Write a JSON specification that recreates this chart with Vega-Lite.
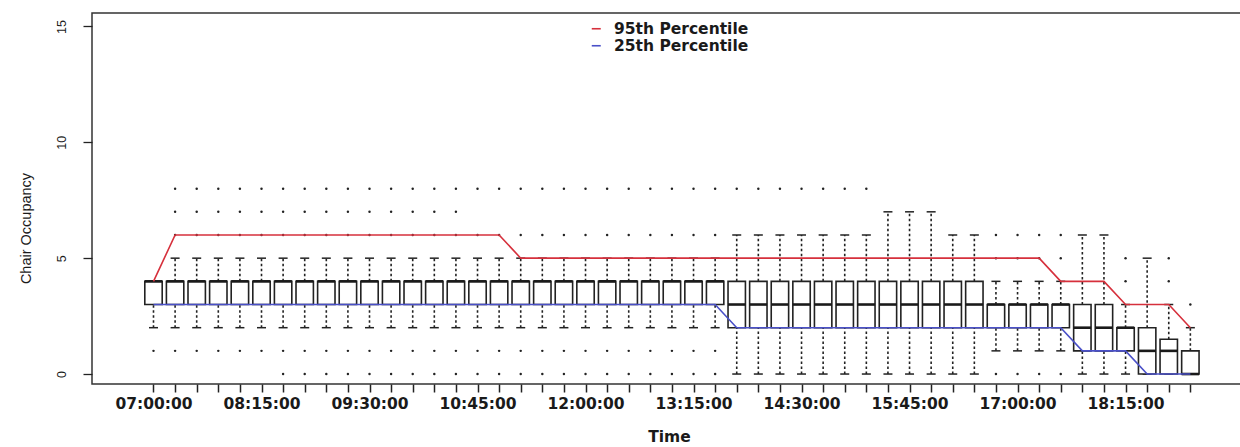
{
  "$schema": "https://vega.github.io/schema/vega-lite/v6.json",
  "autosize": {"type": "none"},
  "padding": {"left": 92, "top": 13, "right": 0, "bottom": 63},
  "width": 1148,
  "height": 371,
  "background": "white",
  "config": {
    "view": {"stroke": "#333", "strokeWidth": 1.5, "strokeDash": [1148, 371, 1519, 0.01]},
    "font": "Liberation Sans"
  },
  "data": {
    "format": {"parse": {"time": "date:'%H:%M:%S'"}},
    "values": [
      {"time": "07:00:00", "lo": 2, "q1": 3, "med": 4, "q3": 4, "hi": 4, "p95": 4, "p25": 3},
      {"time": "07:15:00", "lo": 2, "q1": 3, "med": 4, "q3": 4, "hi": 5, "p95": 6, "p25": 3},
      {"time": "07:30:00", "lo": 2, "q1": 3, "med": 4, "q3": 4, "hi": 5, "p95": 6, "p25": 3},
      {"time": "07:45:00", "lo": 2, "q1": 3, "med": 4, "q3": 4, "hi": 5, "p95": 6, "p25": 3},
      {"time": "08:00:00", "lo": 2, "q1": 3, "med": 4, "q3": 4, "hi": 5, "p95": 6, "p25": 3},
      {"time": "08:15:00", "lo": 2, "q1": 3, "med": 4, "q3": 4, "hi": 5, "p95": 6, "p25": 3},
      {"time": "08:30:00", "lo": 2, "q1": 3, "med": 4, "q3": 4, "hi": 5, "p95": 6, "p25": 3},
      {"time": "08:45:00", "lo": 2, "q1": 3, "med": 4, "q3": 4, "hi": 5, "p95": 6, "p25": 3},
      {"time": "09:00:00", "lo": 2, "q1": 3, "med": 4, "q3": 4, "hi": 5, "p95": 6, "p25": 3},
      {"time": "09:15:00", "lo": 2, "q1": 3, "med": 4, "q3": 4, "hi": 5, "p95": 6, "p25": 3},
      {"time": "09:30:00", "lo": 2, "q1": 3, "med": 4, "q3": 4, "hi": 5, "p95": 6, "p25": 3},
      {"time": "09:45:00", "lo": 2, "q1": 3, "med": 4, "q3": 4, "hi": 5, "p95": 6, "p25": 3},
      {"time": "10:00:00", "lo": 2, "q1": 3, "med": 4, "q3": 4, "hi": 5, "p95": 6, "p25": 3},
      {"time": "10:15:00", "lo": 2, "q1": 3, "med": 4, "q3": 4, "hi": 5, "p95": 6, "p25": 3},
      {"time": "10:30:00", "lo": 2, "q1": 3, "med": 4, "q3": 4, "hi": 5, "p95": 6, "p25": 3},
      {"time": "10:45:00", "lo": 2, "q1": 3, "med": 4, "q3": 4, "hi": 5, "p95": 6, "p25": 3},
      {"time": "11:00:00", "lo": 2, "q1": 3, "med": 4, "q3": 4, "hi": 5, "p95": 6, "p25": 3},
      {"time": "11:15:00", "lo": 2, "q1": 3, "med": 4, "q3": 4, "hi": 5, "p95": 5, "p25": 3},
      {"time": "11:30:00", "lo": 2, "q1": 3, "med": 4, "q3": 4, "hi": 5, "p95": 5, "p25": 3},
      {"time": "11:45:00", "lo": 2, "q1": 3, "med": 4, "q3": 4, "hi": 5, "p95": 5, "p25": 3},
      {"time": "12:00:00", "lo": 2, "q1": 3, "med": 4, "q3": 4, "hi": 5, "p95": 5, "p25": 3},
      {"time": "12:15:00", "lo": 2, "q1": 3, "med": 4, "q3": 4, "hi": 5, "p95": 5, "p25": 3},
      {"time": "12:30:00", "lo": 2, "q1": 3, "med": 4, "q3": 4, "hi": 5, "p95": 5, "p25": 3},
      {"time": "12:45:00", "lo": 2, "q1": 3, "med": 4, "q3": 4, "hi": 5, "p95": 5, "p25": 3},
      {"time": "13:00:00", "lo": 2, "q1": 3, "med": 4, "q3": 4, "hi": 5, "p95": 5, "p25": 3},
      {"time": "13:15:00", "lo": 2, "q1": 3, "med": 4, "q3": 4, "hi": 5, "p95": 5, "p25": 3},
      {"time": "13:30:00", "lo": 2, "q1": 3, "med": 4, "q3": 4, "hi": 5, "p95": 5, "p25": 3},
      {"time": "13:45:00", "lo": 0, "q1": 2, "med": 3, "q3": 4, "hi": 6, "p95": 5, "p25": 2},
      {"time": "14:00:00", "lo": 0, "q1": 2, "med": 3, "q3": 4, "hi": 6, "p95": 5, "p25": 2},
      {"time": "14:15:00", "lo": 0, "q1": 2, "med": 3, "q3": 4, "hi": 6, "p95": 5, "p25": 2},
      {"time": "14:30:00", "lo": 0, "q1": 2, "med": 3, "q3": 4, "hi": 6, "p95": 5, "p25": 2},
      {"time": "14:45:00", "lo": 0, "q1": 2, "med": 3, "q3": 4, "hi": 6, "p95": 5, "p25": 2},
      {"time": "15:00:00", "lo": 0, "q1": 2, "med": 3, "q3": 4, "hi": 6, "p95": 5, "p25": 2},
      {"time": "15:15:00", "lo": 0, "q1": 2, "med": 3, "q3": 4, "hi": 6, "p95": 5, "p25": 2},
      {"time": "15:30:00", "lo": 0, "q1": 2, "med": 3, "q3": 4, "hi": 7, "p95": 5, "p25": 2},
      {"time": "15:45:00", "lo": 0, "q1": 2, "med": 3, "q3": 4, "hi": 7, "p95": 5, "p25": 2},
      {"time": "16:00:00", "lo": 0, "q1": 2, "med": 3, "q3": 4, "hi": 7, "p95": 5, "p25": 2},
      {"time": "16:15:00", "lo": 0, "q1": 2, "med": 3, "q3": 4, "hi": 6, "p95": 5, "p25": 2},
      {"time": "16:30:00", "lo": 0, "q1": 2, "med": 3, "q3": 4, "hi": 6, "p95": 5, "p25": 2},
      {"time": "16:45:00", "lo": 1, "q1": 2, "med": 3, "q3": 3, "hi": 4, "p95": 5, "p25": 2},
      {"time": "17:00:00", "lo": 1, "q1": 2, "med": 3, "q3": 3, "hi": 4, "p95": 5, "p25": 2},
      {"time": "17:15:00", "lo": 1, "q1": 2, "med": 3, "q3": 3, "hi": 4, "p95": 5, "p25": 2},
      {"time": "17:30:00", "lo": 1, "q1": 2, "med": 3, "q3": 3, "hi": 4, "p95": 4, "p25": 2},
      {"time": "17:45:00", "lo": 0, "q1": 1, "med": 2, "q3": 3, "hi": 6, "p95": 4, "p25": 1},
      {"time": "18:00:00", "lo": 0, "q1": 1, "med": 2, "q3": 3, "hi": 6, "p95": 4, "p25": 1},
      {"time": "18:15:00", "lo": 0, "q1": 1, "med": 2, "q3": 2, "hi": 3, "p95": 3, "p25": 1},
      {"time": "18:30:00", "lo": 0, "q1": 0, "med": 1, "q3": 2, "hi": 5, "p95": 3, "p25": 0},
      {"time": "18:45:00", "lo": 0, "q1": 0, "med": 1, "q3": 1.5, "hi": 3, "p95": 3, "p25": 0},
      {"time": "19:00:00", "lo": 0, "q1": 0, "med": 0, "q3": 1, "hi": 2, "p95": 2, "p25": 0}
    ]
  },
  "encoding": {
    "x": {
      "field": "time", "type": "temporal",
      "scale": {"domain": [
        {"year": 1900, "month": 1, "date": 1, "hours": 6, "minutes": 20, "seconds": 46},
        {"year": 1900, "month": 1, "date": 1, "hours": 19, "minutes": 31, "seconds": 0}
      ]},
      "axis": null
    }
  },
  "resolve": {"axis": {"x": "independent", "y": "independent"}},
  "layer": [
    {
      "mark": {"type": "rule", "strokeDash": [2.5, 2.5], "strokeWidth": 1.6, "color": "#222"},
      "encoding": {
        "x": {
          "field": "time", "type": "temporal",
          "scale": {"domain": [
            {"year": 1900, "month": 1, "date": 1, "hours": 6, "minutes": 20, "seconds": 46},
            {"year": 1900, "month": 1, "date": 1, "hours": 19, "minutes": 31, "seconds": 0}
          ]},
          "axis": {
            "orient": "bottom", "title": "Time", "grid": false, "domain": false,
            "values": [
              {"year": 1900, "month": 1, "date": 1, "hours": 7, "minutes": 0},
              {"year": 1900, "month": 1, "date": 1, "hours": 7, "minutes": 15},
              {"year": 1900, "month": 1, "date": 1, "hours": 7, "minutes": 30},
              {"year": 1900, "month": 1, "date": 1, "hours": 7, "minutes": 45},
              {"year": 1900, "month": 1, "date": 1, "hours": 8, "minutes": 0},
              {"year": 1900, "month": 1, "date": 1, "hours": 8, "minutes": 15},
              {"year": 1900, "month": 1, "date": 1, "hours": 8, "minutes": 30},
              {"year": 1900, "month": 1, "date": 1, "hours": 8, "minutes": 45},
              {"year": 1900, "month": 1, "date": 1, "hours": 9, "minutes": 0},
              {"year": 1900, "month": 1, "date": 1, "hours": 9, "minutes": 15},
              {"year": 1900, "month": 1, "date": 1, "hours": 9, "minutes": 30},
              {"year": 1900, "month": 1, "date": 1, "hours": 9, "minutes": 45},
              {"year": 1900, "month": 1, "date": 1, "hours": 10, "minutes": 0},
              {"year": 1900, "month": 1, "date": 1, "hours": 10, "minutes": 15},
              {"year": 1900, "month": 1, "date": 1, "hours": 10, "minutes": 30},
              {"year": 1900, "month": 1, "date": 1, "hours": 10, "minutes": 45},
              {"year": 1900, "month": 1, "date": 1, "hours": 11, "minutes": 0},
              {"year": 1900, "month": 1, "date": 1, "hours": 11, "minutes": 15},
              {"year": 1900, "month": 1, "date": 1, "hours": 11, "minutes": 30},
              {"year": 1900, "month": 1, "date": 1, "hours": 11, "minutes": 45},
              {"year": 1900, "month": 1, "date": 1, "hours": 12, "minutes": 0},
              {"year": 1900, "month": 1, "date": 1, "hours": 12, "minutes": 15},
              {"year": 1900, "month": 1, "date": 1, "hours": 12, "minutes": 30},
              {"year": 1900, "month": 1, "date": 1, "hours": 12, "minutes": 45},
              {"year": 1900, "month": 1, "date": 1, "hours": 13, "minutes": 0},
              {"year": 1900, "month": 1, "date": 1, "hours": 13, "minutes": 15},
              {"year": 1900, "month": 1, "date": 1, "hours": 13, "minutes": 30},
              {"year": 1900, "month": 1, "date": 1, "hours": 13, "minutes": 45},
              {"year": 1900, "month": 1, "date": 1, "hours": 14, "minutes": 0},
              {"year": 1900, "month": 1, "date": 1, "hours": 14, "minutes": 15},
              {"year": 1900, "month": 1, "date": 1, "hours": 14, "minutes": 30},
              {"year": 1900, "month": 1, "date": 1, "hours": 14, "minutes": 45},
              {"year": 1900, "month": 1, "date": 1, "hours": 15, "minutes": 0},
              {"year": 1900, "month": 1, "date": 1, "hours": 15, "minutes": 15},
              {"year": 1900, "month": 1, "date": 1, "hours": 15, "minutes": 30},
              {"year": 1900, "month": 1, "date": 1, "hours": 15, "minutes": 45},
              {"year": 1900, "month": 1, "date": 1, "hours": 16, "minutes": 0},
              {"year": 1900, "month": 1, "date": 1, "hours": 16, "minutes": 15},
              {"year": 1900, "month": 1, "date": 1, "hours": 16, "minutes": 30},
              {"year": 1900, "month": 1, "date": 1, "hours": 16, "minutes": 45},
              {"year": 1900, "month": 1, "date": 1, "hours": 17, "minutes": 0},
              {"year": 1900, "month": 1, "date": 1, "hours": 17, "minutes": 15},
              {"year": 1900, "month": 1, "date": 1, "hours": 17, "minutes": 30},
              {"year": 1900, "month": 1, "date": 1, "hours": 17, "minutes": 45},
              {"year": 1900, "month": 1, "date": 1, "hours": 18, "minutes": 0},
              {"year": 1900, "month": 1, "date": 1, "hours": 18, "minutes": 15},
              {"year": 1900, "month": 1, "date": 1, "hours": 18, "minutes": 30},
              {"year": 1900, "month": 1, "date": 1, "hours": 18, "minutes": 45},
              {"year": 1900, "month": 1, "date": 1, "hours": 19, "minutes": 0}
            ],
            "labelExpr": "(hours(datum.value) * 60 + minutes(datum.value) - 420) % 75 == 0 ? timeFormat(datum.value, '%H:%M:%S') : ''",
            "labelAngle": 0, "labelOverlap": false, "labelFlush": false, "labelFont": "DejaVu Sans", "labelFontWeight": "bold",
            "labelFontSize": 15.5, "labelColor": "#1a1a1a", "labelPadding": 4,
            "tickSize": 8, "tickWidth": 1.5, "tickColor": "#222",
            "titleFont": "DejaVu Sans", "titleFontWeight": "bold", "titleFontSize": 15.5, "titleColor": "#1a1a1a",
            "titleX": 577, "titleY": 57, "titleBaseline": "alphabetic", "titleAlign": "center"
          }
        },
        "y": {
          "field": "q3", "type": "quantitative",
          "scale": {"domain": [-0.43, 15.58], "nice": false, "zero": false},
          "axis": {
            "orient": "left", "values": [0, 5, 10, 15], "grid": false, "domain": false, "title": "Chair Occupancy",
            "labelAngle": 270, "labelAlign": "center", "labelBaseline": "bottom", "labelFlush": false,
            "labelFont": "Liberation Sans", "labelFontSize": 12.5, "labelColor": "#1a1a1a", "labelPadding": 15,
            "tickSize": 9, "tickWidth": 1.3, "tickColor": "#222",
            "titleFont": "Liberation Sans", "titleFontSize": 14.5, "titleFontWeight": "normal", "titleColor": "#1a1a1a",
            "titleAngle": 270, "titleX": -59, "titleY": 215, "titleBaseline": "bottom", "titleAlign": "center"
          }
        },
        "y2": {"field": "hi"}
      }
    },
    {
      "mark": {"type": "rule", "strokeDash": [2.5, 2.5], "strokeWidth": 1.6, "color": "#222"},
      "encoding": {
        "y": {"field": "lo", "type": "quantitative", "scale": {"domain": [-0.43, 15.58], "nice": false, "zero": false}, "axis": null},
        "y2": {"field": "q1"}
      }
    },
    {
      "transform": [{"fold": ["lo", "hi"], "as": ["end", "v"]}],
      "mark": {"type": "tick", "size": 9, "thickness": 1.5, "color": "#222", "opacity": 1},
      "encoding": {
        "y": {"field": "v", "type": "quantitative", "scale": {"domain": [-0.43, 15.58], "nice": false, "zero": false}, "axis": null}
      }
    },
    {
      "mark": {"type": "bar", "width": 17.4, "fill": "white", "stroke": "#222", "strokeWidth": 1.6},
      "encoding": {
        "y": {"field": "q1", "type": "quantitative", "scale": {"domain": [-0.43, 15.58], "nice": false, "zero": false}, "axis": null},
        "y2": {"field": "q3"}
      }
    },
    {
      "mark": {"type": "tick", "size": 17.5, "thickness": 2.6, "color": "#1a1a1a", "opacity": 1},
      "encoding": {
        "y": {"field": "med", "type": "quantitative", "scale": {"domain": [-0.43, 15.58], "nice": false, "zero": false}, "axis": null}
      }
    },
    {
      "data": {
        "format": {"parse": {"time": "date:'%H:%M:%S'"}},
        "values": [
          {"time": "07:00:00", "value": 1},
          {"time": "07:15:00", "value": 1}, {"time": "07:15:00", "value": 6}, {"time": "07:15:00", "value": 7}, {"time": "07:15:00", "value": 8},
          {"time": "07:30:00", "value": 1}, {"time": "07:30:00", "value": 6}, {"time": "07:30:00", "value": 7}, {"time": "07:30:00", "value": 8},
          {"time": "07:45:00", "value": 1}, {"time": "07:45:00", "value": 6}, {"time": "07:45:00", "value": 7}, {"time": "07:45:00", "value": 8},
          {"time": "08:00:00", "value": 1}, {"time": "08:00:00", "value": 6}, {"time": "08:00:00", "value": 7}, {"time": "08:00:00", "value": 8},
          {"time": "08:15:00", "value": 1}, {"time": "08:15:00", "value": 6}, {"time": "08:15:00", "value": 7}, {"time": "08:15:00", "value": 8},
          {"time": "08:30:00", "value": 0}, {"time": "08:30:00", "value": 1}, {"time": "08:30:00", "value": 6}, {"time": "08:30:00", "value": 7}, {"time": "08:30:00", "value": 8},
          {"time": "08:45:00", "value": 0}, {"time": "08:45:00", "value": 1}, {"time": "08:45:00", "value": 6}, {"time": "08:45:00", "value": 7}, {"time": "08:45:00", "value": 8},
          {"time": "09:00:00", "value": 0}, {"time": "09:00:00", "value": 1}, {"time": "09:00:00", "value": 6}, {"time": "09:00:00", "value": 7}, {"time": "09:00:00", "value": 8},
          {"time": "09:15:00", "value": 0}, {"time": "09:15:00", "value": 1}, {"time": "09:15:00", "value": 6}, {"time": "09:15:00", "value": 7}, {"time": "09:15:00", "value": 8},
          {"time": "09:30:00", "value": 0}, {"time": "09:30:00", "value": 1}, {"time": "09:30:00", "value": 6}, {"time": "09:30:00", "value": 7}, {"time": "09:30:00", "value": 8},
          {"time": "09:45:00", "value": 0}, {"time": "09:45:00", "value": 1}, {"time": "09:45:00", "value": 6}, {"time": "09:45:00", "value": 7}, {"time": "09:45:00", "value": 8},
          {"time": "10:00:00", "value": 0}, {"time": "10:00:00", "value": 1}, {"time": "10:00:00", "value": 6}, {"time": "10:00:00", "value": 7}, {"time": "10:00:00", "value": 8},
          {"time": "10:15:00", "value": 0}, {"time": "10:15:00", "value": 1}, {"time": "10:15:00", "value": 6}, {"time": "10:15:00", "value": 7}, {"time": "10:15:00", "value": 8},
          {"time": "10:30:00", "value": 0}, {"time": "10:30:00", "value": 1}, {"time": "10:30:00", "value": 6}, {"time": "10:30:00", "value": 7}, {"time": "10:30:00", "value": 8},
          {"time": "10:45:00", "value": 0}, {"time": "10:45:00", "value": 1}, {"time": "10:45:00", "value": 6}, {"time": "10:45:00", "value": 8},
          {"time": "11:00:00", "value": 0}, {"time": "11:00:00", "value": 1}, {"time": "11:00:00", "value": 6}, {"time": "11:00:00", "value": 8},
          {"time": "11:15:00", "value": 0}, {"time": "11:15:00", "value": 1}, {"time": "11:15:00", "value": 6}, {"time": "11:15:00", "value": 8},
          {"time": "11:30:00", "value": 0}, {"time": "11:30:00", "value": 1}, {"time": "11:30:00", "value": 6}, {"time": "11:30:00", "value": 8},
          {"time": "11:45:00", "value": 0}, {"time": "11:45:00", "value": 1}, {"time": "11:45:00", "value": 6}, {"time": "11:45:00", "value": 8},
          {"time": "12:00:00", "value": 0}, {"time": "12:00:00", "value": 1}, {"time": "12:00:00", "value": 6}, {"time": "12:00:00", "value": 8},
          {"time": "12:15:00", "value": 0}, {"time": "12:15:00", "value": 1}, {"time": "12:15:00", "value": 6}, {"time": "12:15:00", "value": 8},
          {"time": "12:30:00", "value": 0}, {"time": "12:30:00", "value": 1}, {"time": "12:30:00", "value": 6}, {"time": "12:30:00", "value": 8},
          {"time": "12:45:00", "value": 0}, {"time": "12:45:00", "value": 1}, {"time": "12:45:00", "value": 6}, {"time": "12:45:00", "value": 8},
          {"time": "13:00:00", "value": 0}, {"time": "13:00:00", "value": 1}, {"time": "13:00:00", "value": 6}, {"time": "13:00:00", "value": 8},
          {"time": "13:15:00", "value": 0}, {"time": "13:15:00", "value": 1}, {"time": "13:15:00", "value": 6}, {"time": "13:15:00", "value": 8},
          {"time": "13:30:00", "value": 0}, {"time": "13:30:00", "value": 1}, {"time": "13:30:00", "value": 6}, {"time": "13:30:00", "value": 8},
          {"time": "13:45:00", "value": 8}, {"time": "14:00:00", "value": 8}, {"time": "14:15:00", "value": 8}, {"time": "14:30:00", "value": 8},
          {"time": "14:45:00", "value": 8}, {"time": "15:00:00", "value": 8}, {"time": "15:15:00", "value": 8},
          {"time": "16:45:00", "value": 0}, {"time": "16:45:00", "value": 5}, {"time": "16:45:00", "value": 6},
          {"time": "17:00:00", "value": 0}, {"time": "17:00:00", "value": 5}, {"time": "17:00:00", "value": 6},
          {"time": "17:15:00", "value": 0}, {"time": "17:15:00", "value": 5}, {"time": "17:15:00", "value": 6},
          {"time": "17:30:00", "value": 0}, {"time": "17:30:00", "value": 5}, {"time": "17:30:00", "value": 6},
          {"time": "18:15:00", "value": 4}, {"time": "18:15:00", "value": 5},
          {"time": "18:45:00", "value": 4}, {"time": "18:45:00", "value": 5},
          {"time": "19:00:00", "value": 3}
        ]
      },
      "mark": {"type": "point", "filled": true, "size": 6, "color": "#222", "opacity": 1},
      "encoding": {
        "y": {"field": "value", "type": "quantitative", "scale": {"domain": [-0.43, 15.58], "nice": false, "zero": false}, "axis": null}
      }
    },
    {
      "transform": [{"fold": ["p95", "p25"], "as": ["series", "pct"]}],
      "mark": {"type": "line", "strokeWidth": 1.6},
      "encoding": {
        "y": {"field": "pct", "type": "quantitative", "scale": {"domain": [-0.43, 15.58], "nice": false, "zero": false}, "axis": null},
        "color": {
          "field": "series", "type": "nominal",
          "scale": {"domain": ["p95", "p25"], "range": ["#d6303c", "#4a50c8"]},
          "legend": {
            "orient": "none", "legendX": 496.5, "legendY": 8, "title": null, "padding": 0,
            "symbolType": "stroke", "symbolSize": 81, "symbolStrokeWidth": 1.6,
            "labelFont": "DejaVu Sans", "labelFontWeight": "bold", "labelFontSize": 15.5, "labelColor": "#1a1a1a",
            "labelOffset": 10, "rowPadding": -5,
            "labelExpr": "datum.value == 'p95' ? '95th Percentile' : '25th Percentile'"
          }
        }
      }
    }
  ]
}
